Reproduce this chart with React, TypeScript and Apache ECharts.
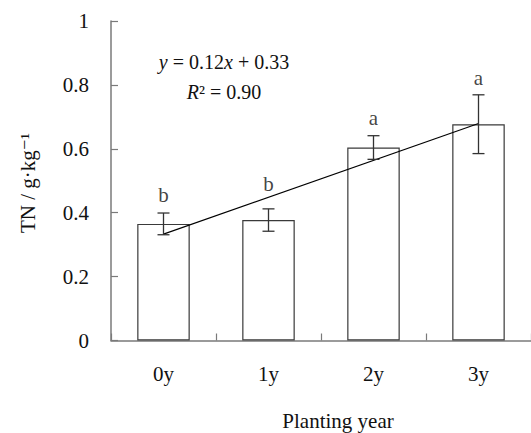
import React, { useEffect, useRef } from "react";
import * as echarts from "echarts";

const categories = ["0y", "1y", "2y", "3y"];
const tnMeans = [0.365, 0.377, 0.604, 0.677];
const tnErrors = [0.034, 0.035, 0.037, 0.092];
const letters = ["b", "b", "a", "a"];
const letterY = [0.455, 0.491, 0.695, 0.821];
const trendStart = 0.333;
const trendEnd = 0.679;

const FONT = "'Liberation Serif', 'DejaVu Serif', serif";

export default function App() {
  const ref = useRef<HTMLDivElement>(null);
  useEffect(() => {
    document.body.style.margin = "0";
    const chart = echarts.init(ref.current!, null, { renderer: "svg" });
    const axisColor = "#7a7a7a";
    chart.setOption({
      animation: false,
      backgroundColor: "#fff",
      grid: { left: 111, top: 21, width: 428, height: 319.5, containLabel: false },
      xAxis: {
        type: "category",
        data: categories,
        axisLine: { show: true, lineStyle: { color: axisColor, width: 1.5 } },
        axisTick: { show: true, inside: true, length: 7, lineStyle: { color: axisColor, width: 1.2 } },
        axisLabel: { fontSize: 21, color: "#111", fontFamily: FONT, margin: 23 },
        splitLine: { show: false },
      },
      yAxis: {
        type: "value",
        min: 0,
        max: 1,
        interval: 0.2,
        axisLine: { show: true, lineStyle: { color: axisColor, width: 1.5 } },
        axisTick: { show: true, inside: true, length: 7, lineStyle: { color: axisColor, width: 1.2 } },
        axisLabel: { fontSize: 21, color: "#111", fontFamily: FONT, margin: 22 },
        splitLine: { show: false },
      },
      series: [
        {
          type: "bar",
          data: tnMeans,
          barWidth: "50%",
          itemStyle: { color: "#fff", borderColor: "#3a3a3a", borderWidth: 1.2 },
          z: 2,
        },
        {
          type: "line",
          data: [
            [categories[0], trendStart],
            [categories[3], trendEnd],
          ],
          symbol: "none",
          lineStyle: { color: "#000", width: 1.1 },
          z: 3,
        },
        {
          type: "custom",
          data: tnMeans.map((m, i) => [i, m, tnErrors[i]]),
          renderItem: (params: any, api: any) => {
            const i = api.value(0);
            const m = api.value(1);
            const e = api.value(2);
            const top = api.coord([i, m + e]);
            const bot = api.coord([i, m - e]);
            const hw = 6;
            const style = { stroke: "#333", lineWidth: 1.3 };
            return {
              type: "group",
              children: [
                { type: "line", shape: { x1: top[0], y1: top[1], x2: bot[0], y2: bot[1] }, style },
                { type: "line", shape: { x1: top[0] - hw, y1: top[1], x2: top[0] + hw, y2: top[1] }, style },
                { type: "line", shape: { x1: bot[0] - hw, y1: bot[1], x2: bot[0] + hw, y2: bot[1] }, style },
              ],
            };
          },
          z: 4,
        },
        {
          type: "scatter",
          data: letterY.map((v, i) => [i, v]),
          symbolSize: 0,
          label: {
            show: true,
            position: "inside",
            formatter: (p: any) => letters[p.dataIndex],
            fontSize: 21,
            color: "#111",
            fontFamily: FONT,
          },
          z: 5,
        },
      ],
      graphic: [
        {
          type: "text",
          x: 224,
          y: 62,
          style: {
            text: "{i|y} = 0.12{i|x} + 0.33",
            textAlign: "center",
            textVerticalAlign: "middle",
            fontSize: 20,
            fontFamily: FONT,
            fill: "#111",
            rich: { i: { fontStyle: "italic", fontSize: 20, fontFamily: FONT, fill: "#111" } },
          },
        },
        {
          type: "text",
          x: 224,
          y: 92,
          style: {
            text: "{i|R}² = 0.90",
            textAlign: "center",
            textVerticalAlign: "middle",
            fontSize: 20,
            fontFamily: FONT,
            fill: "#111",
            rich: { i: { fontStyle: "italic", fontSize: 20, fontFamily: FONT, fill: "#111" } },
          },
        },
        {
          type: "text",
          x: 338,
          y: 421,
          style: {
            text: "Planting year",
            textAlign: "center",
            textVerticalAlign: "middle",
            fontSize: 21,
            fontFamily: FONT,
            fill: "#111",
          },
        },
        {
          type: "text",
          x: 28,
          y: 183,
          rotation: Math.PI / 2,
          style: {
            text: "TN / g·kg⁻¹",
            textAlign: "center",
            textVerticalAlign: "middle",
            fontSize: 21,
            fontFamily: FONT,
            fill: "#111",
          },
        },
      ],
    });
    return () => chart.dispose();
  }, []);
  return <div ref={ref} style={{ width: 531, height: 433 }} />;
}
